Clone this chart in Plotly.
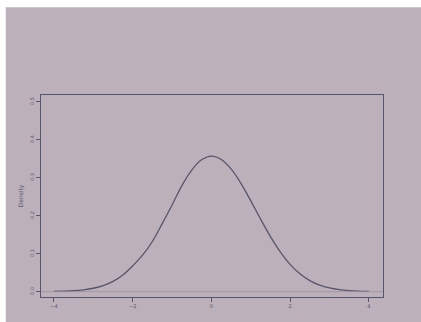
import plotly.graph_objects as go

# Density curve
x_vals = [-4.0, -3.75, -3.5, -3.25, -3.0, -2.75, -2.5, -2.25, -2.0, -1.75, -1.5, -1.25,
          -1.0, -0.75, -0.5, -0.25, 0.0, 0.25, 0.5, 0.75, 1.0, 1.25, 1.5, 1.75,
          2.0, 2.25, 2.5, 2.75, 3.0, 3.25, 3.5, 3.75, 4.0]
density = [0.0006, 0.0012, 0.0024, 0.0048, 0.0090, 0.0160, 0.0270, 0.0440, 0.0680, 0.0960, 0.1320, 0.1790,
           0.2280, 0.2790, 0.3200, 0.3470, 0.3570, 0.3480, 0.3230, 0.2850, 0.2390, 0.1910, 0.1450, 0.1050,
           0.0720, 0.0470, 0.0290, 0.0172, 0.0097, 0.0052, 0.0026, 0.0013, 0.0006]

x_ticks = [-4, -2, 0, 2, 4]
y_ticks = [0.0, 0.1, 0.2, 0.3, 0.4, 0.5]
y_tick_text = ["0.0", "0.1", "0.2", "0.3", "0.4", "0.5"]

screen = "rgb(188,176,187)"
ink = "rgb(88,86,106)"

fig = go.Figure()
fig.add_trace(go.Scatter(x=x_vals, y=density, mode="lines", line=dict(color=ink, width=1.3, shape="spline"),
                         hoverinfo="skip", showlegend=False))

fig.update_layout(
    width=421, height=322,
    margin=dict(l=41, r=38, t=95, b=25),
    paper_bgcolor="white",
    plot_bgcolor=screen,
    showlegend=False,
    font=dict(family="DejaVu Sans", size=6, color=ink),
    shapes=[
        dict(type="rect", xref="paper", yref="paper", x0=-0.103, x1=1.13, y0=-0.2, y1=1.435,
             fillcolor=screen, line=dict(width=0), layer="below"),
        dict(type="line", xref="paper", yref="y", x0=0, x1=1, y0=0, y1=0,
             line=dict(color="rgb(155,146,160)", width=0.8)),
    ],
    xaxis=dict(range=[-4.33, 4.36], tickvals=x_ticks, ticks="outside", ticklen=4, tickcolor=ink,
               showgrid=False, zeroline=False, showline=True, linecolor=ink, linewidth=0.9, mirror=True,
               tickfont=dict(size=5, color=ink)),
    yaxis=dict(range=[-0.014, 0.5176], tickvals=y_ticks, ticktext=y_tick_text, ticks="outside", ticklen=4,
               tickcolor=ink, tickangle=-90, showgrid=False, zeroline=False, showline=True, linecolor=ink,
               linewidth=0.9, mirror=True, tickfont=dict(size=5, color=ink),
               title=dict(text="Density", font=dict(size=6, color=ink), standoff=4)),
)

fig.write_html("out.html")
